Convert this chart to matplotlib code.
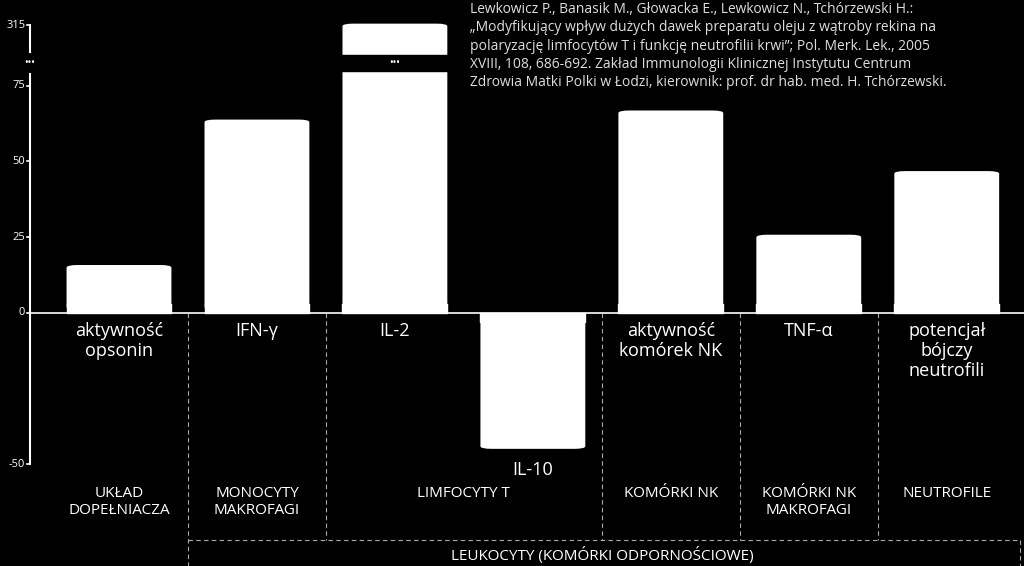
import matplotlib
matplotlib.use("Agg")
import matplotlib.pyplot as plt
from matplotlib.patches import FancyBboxPatch

plt.rcParams["font.family"] = "Open Sans"

categories = ["aktywność\nopsonin", "IFN-γ", "IL-2", "IL-10", "aktywność\nkomórek NK", "TNF-α", "potencjał\nbójczy\nneutrofili"]
values = [17, 65, 320, -46, 68, 27, 48]
groups = ["UKŁAD\nDOPEŁNIACZA", "MONOCYTY\nMAKROFAGI", "LIMFOCYTY T", "KOMÓRKI NK", "KOMÓRKI NK\nMAKROFAGI", "NEUTROFILE"]
group_centers = [0, 1, 2.5, 4, 5, 6]
tick_vals = [-50, 0, 25, 50, 75, 315]
citation = ("Lewkowicz P., Banasik M., Głowacka E., Lewkowicz N., Tchórzewski H.:\n"
            "„Modyfikujący wpływ dużych dawek preparatu oleju z wątroby rekina na\n"
            "polaryzację limfocytów T i funkcję neutrofilii krwi”; Pol. Merk. Lek., 2005\n"
            "XVIII, 108, 686-692. Zakład Immunologii Klinicznej Instytutu Centrum\n"
            "Zdrowia Matki Polki w Łodzi, kierownik: prof. dr hab. med. H. Tchórzewski.")

def f(v):
    # broken axis: linear up to 75, compressed above
    return v if v <= 75 else 75 + 5 + 15 * (v - 75) / 240 if v < 315 else 95 + (v - 315) / 3

fig = plt.figure(figsize=(10.24, 5.66), dpi=100, facecolor="black")
ax = fig.add_axes([30/1024, 0, 994/1024, 1])
ax.set_facecolor("black")
ax.set_xlim(-0.645, 6.56)
ax.set_ylim(-83.5, 103.3)
ax.axis("off")
W = 0.76
yscale = 186.8 / 566 * 1024 / 7.205  # data units per x unit for equal visual radius
for i, v in enumerate(values):
    y0, y1 = (0, f(v)) if v > 0 else (f(v), 0)
    p = FancyBboxPatch((i - W/2 + 0.08, y0 + 2), W - 0.16, y1 - y0 - 4,
                       boxstyle="round,pad=0.08", mutation_aspect=yscale / 4.5,
                       fc="white", ec="none", zorder=2)
    ax.add_patch(p)
    if v > 0:
        ax.fill_between([i - W/2, i + W/2], 0, 3, color="white", zorder=2)
    else:
        ax.fill_between([i - W/2, i + W/2], -3, 0, color="white", zorder=2)
# break in IL-2 bar
ax.fill_between([1.5, 2.5 + 0.5], 80, 85, color="black", zorder=3)
ax.text(2, 82.5, "•••", color="white", ha="center", va="center", fontsize=7, zorder=4)
# zero line
ax.plot([-0.645, 6.56], [0, 0], color="white", lw=1.2, zorder=5)
# y axis
ax.plot([-0.645, -0.645], [-50, 79], color="white", lw=1.5, clip_on=False, zorder=5)
ax.plot([-0.645, -0.645], [86, f(315)], color="white", lw=1.5, clip_on=False, zorder=5)
ax.text(-0.645, 82.5, "•••", color="white", ha="center", va="center", fontsize=7)
for t in tick_vals:
    ax.plot([-0.665, -0.645], [f(t), f(t)], color="white", lw=1.2, clip_on=False)
    ax.text(-0.68, f(t), str(t), color="white", ha="right", va="center", fontsize=8)
# category labels
for i, (c, v) in enumerate(zip(categories, values)):
    if v > 0:
        ax.text(i, -3, c, color="white", ha="center", va="top", fontsize=13, linespacing=1.15)
    else:
        ax.text(i, f(v) - 3, c, color="white", ha="center", va="top", fontsize=13)
# group labels
for g, x in zip(groups, group_centers):
    ax.text(x, -57, g, color="white", ha="center", va="top", fontsize=11, linespacing=1.2)
# separators
dash = dict(color="#aaaaaa", lw=0.8, ls=(0, (4, 3)))
ax.plot([0.5, 0.5], [0, -83.5], **dash)
for x in [1.5, 3.5, 4.5, 5.5]:
    ax.plot([x, x], [0, -75], **dash)
ax.plot([0.5, 6.53], [-75, -75], **dash)
ax.plot([6.53, 6.53], [-75, -83.5], **dash)
ax.text(3.5, -80, "LEUKOCYTY (KOMÓRKI ODPORNOŚCIOWE)", color="white", ha="center", va="center", fontsize=11)
fig.text(470/1024, 1 - 2/566, citation, color="#dddddd", ha="left", va="top", fontsize=10, linespacing=1.3)
fig.savefig("out.png", dpi=100, facecolor="black")
